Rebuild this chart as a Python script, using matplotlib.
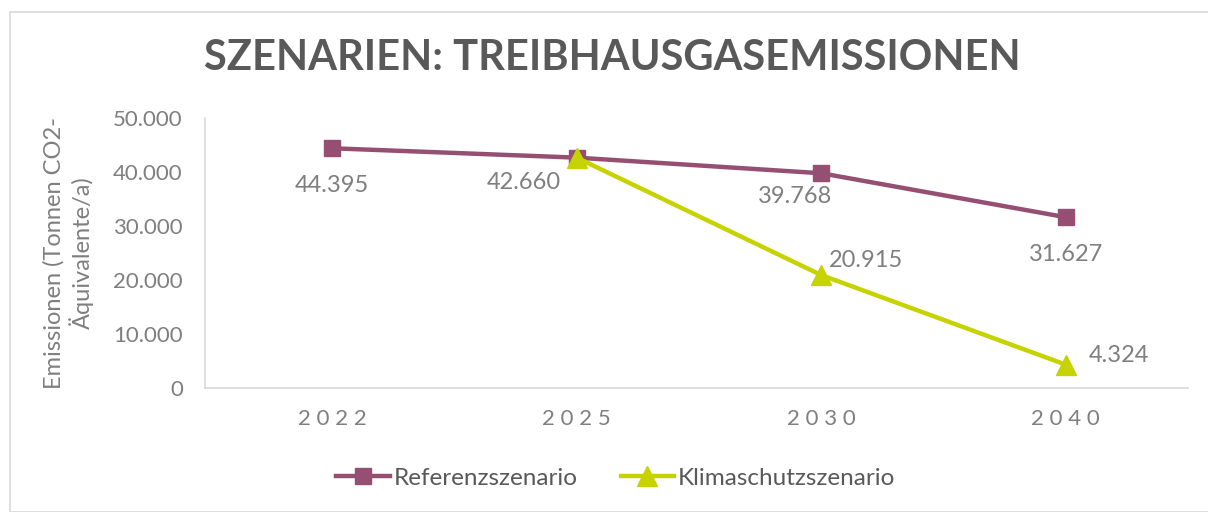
import matplotlib
matplotlib.use("Agg")
import matplotlib.pyplot as plt
import numpy as np
from matplotlib.patches import Rectangle

years = ["2022", "2025", "2030", "2040"]
referenz = [44395, 42660, 39768, 31627]
klima = [np.nan, 42660, 20915, 4324]
ref_labels = ["44.395", "42.660", "39.768", "31.627"]
klima_labels = ["", "", "20.915", "4.324"]
yticks = [0, 10000, 20000, 30000, 40000, 50000]
ytick_labels = ["0", "10.000", "20.000", "30.000", "40.000", "50.000"]

plt.rcParams['font.family'] = ['Lato', 'DejaVu Sans']
PURPLE = "#954F72"
GREEN = "#C6D300"
GRAY = "#7F7F7F"
DARK = "#595959"

fig = plt.figure(figsize=(12.08, 5.12), dpi=100)
fig.patches.append(Rectangle((10/1208, 0), 1.0, 1 - 12/512, transform=fig.transFigure,
                             fill=False, edgecolor="#D9D9D9", linewidth=1.2))

ax = fig.add_axes([205/1208, 1 - 388/512, (1188-205)/1208, (388-118)/512])
x = np.arange(len(years))
ax.plot(x, referenz, color=PURPLE, linewidth=3.2, marker="s", markersize=11,
        label="Referenzszenario", zorder=3)
ax.plot(x, klima, color=GREEN, linewidth=3.2, marker="^", markersize=14,
        label="Klimaschutzszenario", zorder=4)

ax.set_xlim(-0.52, 3.5)
ax.set_ylim(0, 50000)
ax.set_yticks(yticks)
ax.set_yticklabels(ytick_labels)
ax.set_xticks(x)
ax.set_xticklabels([" ".join(y) for y in years])
ax.tick_params(axis="both", length=0, colors=GRAY)
ax.tick_params(axis="y", pad=16, labelsize=16)
ax.tick_params(axis="x", pad=15, labelsize=16)
for s in ["top", "right"]:
    ax.spines[s].set_visible(False)
for s in ["left", "bottom"]:
    ax.spines[s].set_color("#D9D9D9")
    ax.spines[s].set_linewidth(1.2)

# data labels
ref_offsets = [(0, -26.6), (-38, -17.6), (-19, -17), (0, -26.6)]
for i, (v, lab) in enumerate(zip(referenz, ref_labels)):
    dx, dy = ref_offsets[i]
    ax.annotate(lab, (x[i], v), xytext=(dx, dy), textcoords="offset points",
                ha="center", va="center", color=GRAY, fontsize=17)
klima_offsets = {2: (32, 10.5), 3: (38, 6.3)}
for i, lab in enumerate(klima_labels):
    if lab:
        dx, dy = klima_offsets[i]
        ax.annotate(lab, (x[i], klima[i]), xytext=(dx, dy), textcoords="offset points",
                    ha="center", va="center", color=GRAY, fontsize=17)

ax.set_ylabel("Emissionen (Tonnen CO2-\nÄquivalente/a)", color=GRAY, fontsize=17,
              linespacing=1.2)
ax.yaxis.set_label_coords(-111/983, 0.5)

fig.text(612/1208, 1 - 58/512, "SZENARIEN: TREIBHAUSGASEMISSIONEN", ha="center", va="center",
         fontsize=30, fontweight="bold", color=DARK)

leg = fig.legend(loc="center", bbox_to_anchor=(616/1208, 1 - 478/512), ncol=2, frameon=False,
                 fontsize=17.5, handlelength=2.2, handletextpad=0.17, columnspacing=1.75)
for t in leg.get_texts():
    t.set_color(DARK)

fig.savefig("out.png", dpi=100)
